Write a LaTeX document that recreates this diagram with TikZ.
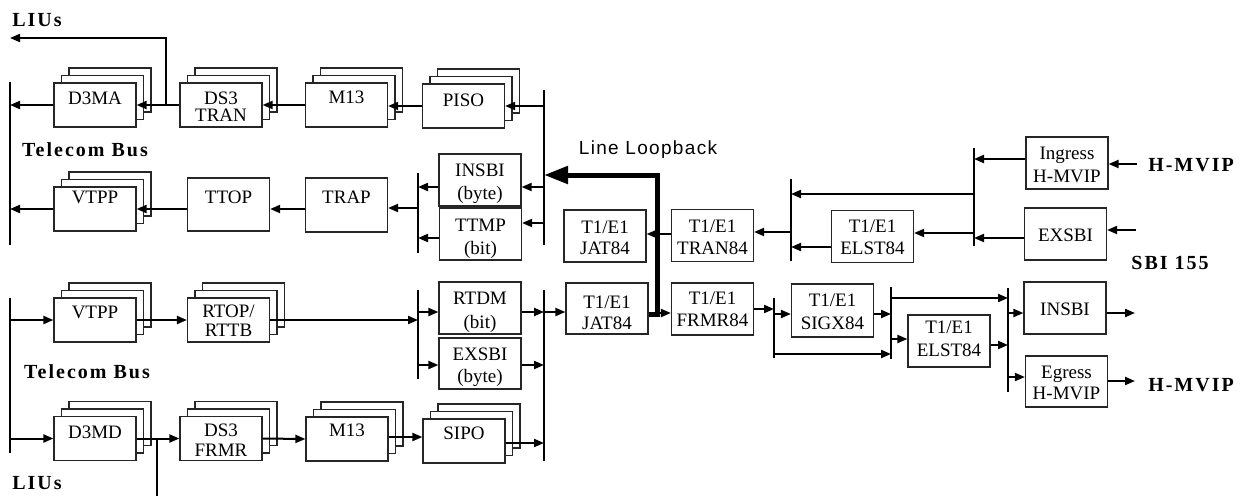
\documentclass[tikz,border=0pt]{standalone}
\usepackage{fontspec}
\setmainfont{Liberation Serif}
\newfontfamily\lbsans{Liberation Sans}[LetterSpace=7]
\newfontfamily\boldsp{Liberation Serif}[LetterSpace=10]
\usetikzlibrary{arrows.meta,calc}
\tikzset{
  box/.style={draw=black!85, line width=1.2pt, fill=white, inner sep=0pt, minimum width=82pt, minimum height=52pt},
  sbox/.style={box, minimum height=44pt},
  lab/.style={inner sep=0pt, align=center},
  arr/.style={line width=2pt, -{Triangle[length=10pt,width=8pt]}},
  ln/.style={line width=2pt},
  bus/.style={line width=2.8pt},
  loopb/.style={line width=5pt, -{Triangle[length=24pt,width=17pt]}},
  title/.style={inner sep=0pt, font=\boldsp\bfseries\fontsize{20}{22}\selectfont},
}
\newcommand\stackbox[2]{%
  \node[sbox] (#1c) at ($#2+(15,-15)$) {};
  \node[sbox] (#1b) at ($#2+(7.5,-7.5)$) {};
  \node[sbox] (#1) at #2 {};}
\newcommand\lbl[4]{\node[lab,font=\fontsize{19}{#4}\selectfont] (#1) at #2 {#3};}
\begin{document}
\begin{tikzpicture}[x=1pt,y=-1pt]
\useasboundingbox (0,0) rectangle (1246,496);

% ---------- boxes ----------
\stackbox{d3ma}{(95,105)}
\stackbox{ds3tran}{(221,105)}
\stackbox{m13a}{(346.5,105)}
\stackbox{piso}{(463.5,106)}
\stackbox{vtppa}{(95,209)}
\node[box,minimum height=53pt] (ttop) at (228.5,204.5) {};
\node[box,minimum height=54pt] (trap) at (346.5,205) {};
\node[box] (insbia) at (480,180) {};
\node[box] (ttmp) at (480.5,234) {};
\node[box] (jat1) at (605,236) {};
\node[box] (tran84) at (712.5,235.5) {};
\node[box] (elst1) at (872.5,236.5) {};
\node[box] (ingress) at (1067,163) {};
\node[box] (exsbi2) at (1065.5,234) {};

\stackbox{vtppb}{(95,320)}
\stackbox{rtop}{(228.5,320)}
\node[box] (rtdm) at (480,308) {};
\node[box,minimum height=51pt] (exsbib) at (480,363.5) {};
\node[box,minimum height=51pt] (jat2) at (607,308.5) {};
\node[box] (frmr84) at (712.5,309) {};
\node[box,minimum height=53pt] (sigx) at (832.5,310.5) {};
\node[box] (elst2) at (949,341) {};
\node[box] (insbi2) at (1065,308) {};
\node[box,minimum height=51pt] (egress) at (1066.5,381.5) {};
\stackbox{d3md}{(95,438.5)}
\stackbox{ds3frmr}{(221,438.5)}
\stackbox{m13b}{(347,439)}
\stackbox{sipo}{(464,441)}

% ---------- box labels ----------
\lbl{d3ma-l}{(95,98)}{D3MA}{22}
\lbl{ds3tran-l}{(221,106.5)}{DS3\\TRAN}{17}
\lbl{m13a-l}{(346.5,97)}{M13}{22}
\lbl{piso-l}{(463.5,100)}{PISO}{22}
\lbl{vtppa-l}{(95,197)}{VTPP}{22}
\lbl{ttop-l}{(228.5,197)}{TTOP}{22}
\lbl{trap-l}{(346.5,197)}{TRAP}{22}
\lbl{insbia-l}{(480,183.5)}{INSBI\\(byte)}{23}
\lbl{ttmp-l}{(480.5,238.5)}{TTMP\\(bit)}{23}
\lbl{jat1-l}{(605,237.5)}{T1/E1\\JAT84}{21}
\lbl{tran84-l}{(712.5,237)}{T1/E1\\TRAN84}{22}
\lbl{elst1-l}{(872.5,237)}{T1/E1\\ELST84}{22}
\lbl{ingress-l}{(1067,165)}{Ingress\\H-MVIP}{23}
\lbl{exsbi2-l}{(1065.5,235)}{EXSBI}{22}
\lbl{vtppb-l}{(95,312)}{VTPP}{22}
\lbl{rtop-l}{(228.5,320.5)}{RTOP/\\RTTB}{19}
\lbl{rtdm-l}{(480,312.5)}{RTDM\\(bit)}{24}
\lbl{exsbib-l}{(480,367)}{EXSBI\\(byte)}{22}
\lbl{jat2-l}{(607,312.5)}{T1/E1\\JAT84}{21}
\lbl{frmr84-l}{(712.5,309)}{T1/E1\\FRMR84}{22}
\lbl{sigx-l}{(832.5,311.5)}{T1/E1\\SIGX84}{23}
\lbl{elst2-l}{(949,338.5)}{T1/E1\\ELST84}{23}
\lbl{insbi2-l}{(1065,309)}{INSBI}{22}
\lbl{egress-l}{(1066.5,383)}{Egress\\H-MVIP}{21}
\lbl{d3md-l}{(95,432)}{D3MD}{22}
\lbl{ds3frmr-l}{(221,440)}{DS3\\FRMR}{20}
\lbl{m13b-l}{(347,430)}{M13}{22}
\lbl{sipo-l}{(464,433)}{SIPO}{22}

% ---------- titles ----------
\node[title] (liusT) at (37,20) {LIUs};
\node[title] (telT) at (85,150) {Telecom Bus};
\node[title] (telB) at (87,372) {Telecom Bus};
\node[title] (liusB) at (37,483) {LIUs};
\node[title] (hmvipA) at (1191,165) {H-MVIP};
\node[title] (hmvipB) at (1191,385) {H-MVIP};
\node[title] (sbi) at (1170,263) {SBI 155};
\node[inner sep=0pt, font=\lbsans\fontsize{19}{22}\selectfont] (loopT) at (648,150) {Line Loopback};

% ---------- buses ----------
\coordinate (busL1t) at (10,82);  \coordinate (busL1b) at (10,245);
\coordinate (busL2t) at (10,298); \coordinate (busL2b) at (10,453);
\coordinate (busAt) at (544,90);  \coordinate (busAb) at (544,245);
\coordinate (busBt) at (544,290); \coordinate (busBb) at (544,461);
\coordinate (busCt) at (418,173); \coordinate (busCb) at (418,253);
\coordinate (busDt) at (418,290); \coordinate (busDb) at (418,379);
\coordinate (busEt) at (791,179); \coordinate (busEb) at (791,261);
\coordinate (busFt) at (974,148); \coordinate (busFb) at (974,246);
\coordinate (busGt) at (774,298); \coordinate (busGb) at (774,358);
\coordinate (busHt) at (891,287); \coordinate (busHb) at (891,359);
\coordinate (busIt) at (1008,288); \coordinate (busIb) at (1008,392);
\foreach \b in {L1,L2,A,B,C,D,E,F,G,H,I} {\draw[bus] (bus\b t) -- (bus\b b);}

% ---------- row levels ----------
\foreach \r in {159,164,187,194,208,223,230,232,233,234,238,247,298,309,312,313,314,339,345,354,365,377,437,443}
  {\coordinate (r\r) at (0,\r);}

% ---------- connectors: upper half ----------
\draw[arr] (ds3tran.west) -- (d3ma.east);
\draw[arr] (d3ma.west) -- (d3ma.west -| busL1t);
\coordinate (liusJ) at (166,105); \coordinate (liusE) at (10,38);
\draw[arr] (liusJ) |- (liusE);
\draw[arr] (m13a.west) -- (ds3tran.east);
\draw[arr] (piso.west) -- (piso.west -| m13a.east);
\draw[arr] (piso.east -| busAt) -- (piso.east);

\draw[arr] (vtppa.west) -- (vtppa.west -| busL1t);
\draw[arr] (vtppa.east -| ttop.west) -- (vtppa.east);
\draw[arr] (vtppa.east -| trap.west) -- (vtppa.east -| ttop.east);
\draw[arr] (busCt |- r208) -- (trap.east |- r208);
\draw[arr] (insbia.west |- r187) -- (busCt |- r187);
\draw[arr] (ttmp.west |- r238) -- (busCt |- r238);
\draw[arr] (busAt |- r187) -- (insbia.east |- r187);
\draw[arr] (busAt |- r223) -- (ttmp.east |- r223);

\draw[arr] (tran84.west |- r234) -- (jat1.east |- r234);
\draw[arr] (busEt |- r232) -- (tran84.east |- r232);
\draw[arr] (elst1.west |- r247) -- (busEt |- r247);
\draw[arr] (busFt |- r233) -- (elst1.east |- r233);
\draw[arr] (busFt |- r194) -- (busEt |- r194);
\draw[arr] (ingress.west |- r159) -- (busFt |- r159);
\draw[arr] (exsbi2.west |- r238) -- (busFt |- r238);
\coordinate (inA) at (1137,164);
\draw[arr] (inA) -- (ingress.east |- inA);
\coordinate (inB) at (1136,230);
\draw[arr] (inB) -- (exsbi2.east |- inB);

% ---------- connectors: lower half ----------
\draw[arr] (busL2t |- vtppb.west) -- (vtppb.west);
\draw[arr] (vtppb.east) -- (rtop.west);
\draw[arr] (rtop.east) -- (rtop.east -| busDt);
\draw[arr] (busDt |- r312) -- (rtdm.west |- r312);
\draw[arr] (busDt |- r365) -- (exsbib.west |- r365);
\draw[arr] (rtdm.east |- r312) -- (busBt |- r312);
\draw[arr] (busBt |- r312) -- (jat2.west |- r312);
\draw[arr] (exsbib.east |- r365) -- (busBt |- r365);
\draw[arr] (sipo.east |- r443) -- (busBt |- r443);

\draw[arr] (busL2t |- d3md.west) -- (d3md.west);
\draw[arr] (d3md.east) -- (ds3frmr.west);
\coordinate (brJ) at (157,439); \coordinate (brE) at (157,496);
\draw[ln] (brJ) -- (brE);
\draw[arr] (ds3frmr.east) -- (m13b.west);
\draw[arr] (m13b.east |- r437) -- (sipo.west |- r437);

\draw[arr] (jat2.east |- r313) -- (frmr84.west |- r313);
\draw[arr] (frmr84.east |- r309) -- (busGt |- r309);
\draw[arr] (busGt |- r314) -- (sigx.west |- r314);
\draw[arr] (busGt |- r354) -- (busHt |- r354);
\draw[arr] (sigx.east |- r314) -- (busHt |- r314);
\draw[arr] (busHt |- r298) -- (busIt |- r298);
\draw[arr] (busHt |- r339) -- (elst2.west |- r339);
\draw[arr] (elst2.east |- r345) -- (busIt |- r345);
\draw[arr] (busIt |- r313) -- (insbi2.west |- r313);
\draw[arr] (busIt |- r377) -- (egress.west |- r377);
\coordinate (outA) at (1135,313);
\draw[arr] (insbi2.east |- outA) -- (outA);
\coordinate (outB) at (1135,381);
\draw[arr] (egress.east |- outB) -- (outB);

% ---------- line loopback ----------
\coordinate (lb1) at (649,314); \coordinate (lb2) at (657,175);
\draw[loopb] (lb1) -| (lb2) -- (lb2 -| busAt);
\end{tikzpicture}
\end{document}
